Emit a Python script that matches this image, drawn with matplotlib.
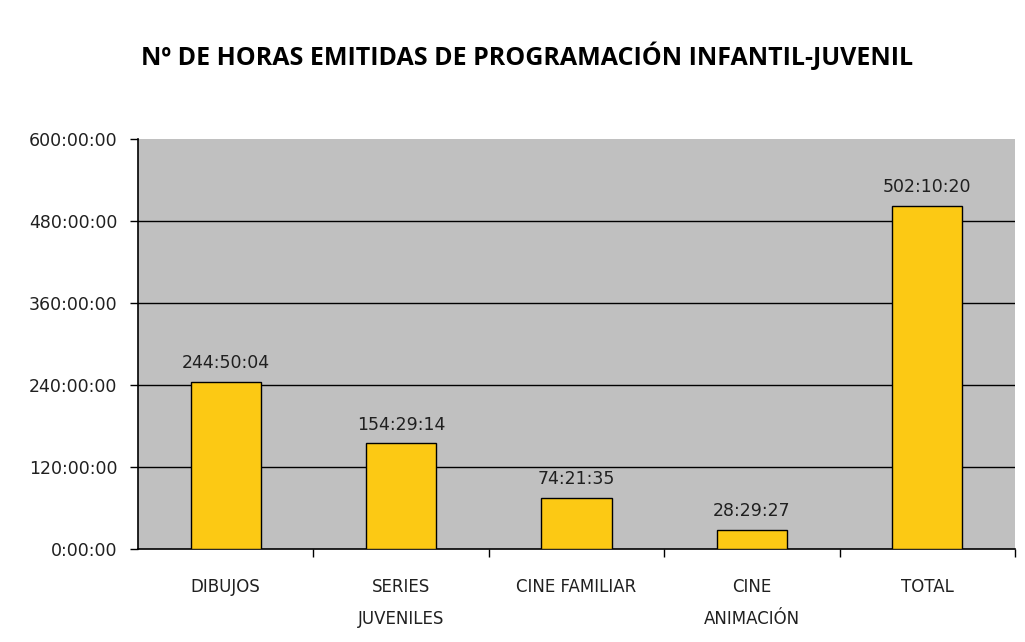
import matplotlib.pyplot as plt
from matplotlib.ticker import FuncFormatter, FixedLocator

# data (hh:mm:ss)
categorias = ['DIBUJOS', 'SERIES\nJUVENILES', 'CINE FAMILIAR', 'CINE\nANIMACIÓN', 'TOTAL']
tiempos = ['244:50:04', '154:29:14', '74:21:35', '28:29:27', '502:10:20']
y_ticks = [0, 120, 240, 360, 480, 600]


def a_horas(t):
    h, m, s = [int(p) for p in t.split(':')]
    return h + m / 60 + s / 3600


horas = [a_horas(t) for t in tiempos]

fig = plt.figure(figsize=(10.25, 6.42), dpi=100)
ax = fig.add_axes([0.1346, 0.1449, 0.8556, 0.6386])
ax.set_facecolor('#c0c0c0')

x = list(range(len(categorias)))
bars = ax.bar(x, horas, width=0.4, color='#fcc914', edgecolor='black', linewidth=1.0, zorder=3)

for b, t in zip(bars, tiempos):
    ax.annotate(t, (b.get_x() + b.get_width() / 2, b.get_height()), xytext=(0, 7),
                textcoords='offset points', ha='center', va='bottom',
                fontsize=12.5, color='#202020', zorder=4)

ax.set_xlim(-0.5, len(categorias) - 0.5)
ax.set_ylim(0, 600)
ax.set_yticks(y_ticks)
ax.yaxis.set_major_formatter(FuncFormatter(lambda v, p: '%d:00:00' % v))
for v in y_ticks[1:-1]:
    ax.axhline(v, color='black', linewidth=1.0, zorder=1)

ax.set_xticks(x)
ax.set_xticklabels(categorias, fontsize=12, linespacing=2.0, color='#202020')
ax.tick_params(axis='x', which='major', length=0, pad=21)
ax.xaxis.set_minor_locator(FixedLocator([i + 0.5 for i in x]))
ax.tick_params(axis='x', which='minor', length=6, width=1, direction='out')
ax.tick_params(axis='y', length=6, width=1, direction='out', pad=9,
               labelsize=12.5, labelcolor='#202020')

for side in ['top', 'right']:
    ax.spines[side].set_visible(False)
ax.spines['left'].set_linewidth(1.2)
ax.spines['bottom'].set_linewidth(1.2)

fig.text(0.514, 0.911, 'Nº DE HORAS EMITIDAS DE PROGRAMACIÓN INFANTIL-JUVENIL',
         ha='center', va='center', fontsize=18, fontweight='bold', family='Open Sans')

fig.savefig('out.png', dpi=100)
